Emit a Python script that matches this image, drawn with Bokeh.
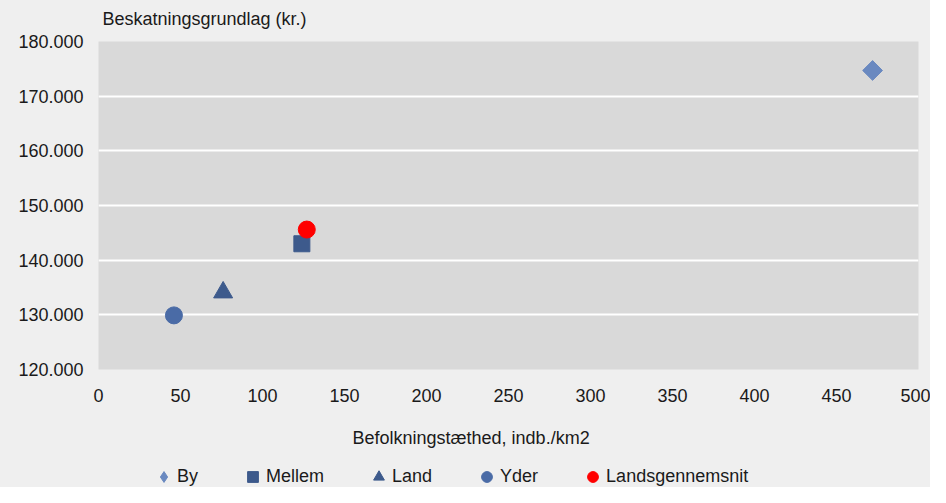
import math
from bokeh.plotting import figure
from bokeh.layouts import column
from bokeh.models import Range1d, FixedTicker, Legend, LegendItem, Label
from bokeh.embed import file_html
from bokeh.resources import INLINE

# Data
series = ["By", "Mellem", "Land", "Yder", "Landsgennemsnit"]
density = [472, 124, 76, 46, 127]
tax_base = [174700, 143000, 134100, 129900, 145600]
markers = ["square", "square", "triangle", "circle", "circle"]
legend_markers = ["diamond", "square", "triangle", "circle", "circle"]
angles = [math.pi / 4, 0, 0, 0, 0]
colors = ["#6a89c0", "#3d5a8c", "#3d5a8c", "#4a6ba6", "#ff0000"]
sizes = [14, 16, 19, 17, 17]

x_ticks = list(range(0, 501, 50))
y_ticks = list(range(120000, 180001, 10000))
y_tick_labels = {t: f"{t:,}".replace(",", ".") for t in y_ticks}

y_title = "Beskatningsgrundlag (kr.)"
x_title = "Befolkningstæthed, indb./km2"

FONT = "Liberation Sans"
TXT = "#1a1a1a"
BG = "#efefef"

W = 930
BL, BR = 98, 12
H_TOP, H_MAIN, H_BOT = 30, 379, 78


def strip(height):
    s = figure(width=W, height=height, output_backend="svg", toolbar_location=None,
               x_axis_type=None, y_axis_type=None,
               min_border_left=BL, min_border_right=BR, min_border_top=0, min_border_bottom=0,
               x_range=Range1d(0, 1), y_range=Range1d(0, 1))
    s.background_fill_color = None
    s.border_fill_color = BG
    s.outline_line_color = None
    s.xgrid.grid_line_color = None
    s.ygrid.grid_line_color = None
    return s


# Top strip: y-axis title
top = strip(H_TOP)
top.add_layout(Label(x=4, y=11.5, x_units="screen", y_units="screen", text=y_title,
                     text_font=FONT, text_font_size="18px", text_color=TXT,
                     text_baseline="middle"))

# Main plot
p = figure(width=W, height=H_MAIN, output_backend="svg", toolbar_location=None,
           x_range=Range1d(0, 500), y_range=Range1d(120000, 180000),
           min_border_left=BL, min_border_right=BR, min_border_top=11, min_border_bottom=40)
p.background_fill_color = "#d9d9d9"
p.border_fill_color = BG
p.outline_line_color = None

p.xgrid.grid_line_color = None
p.ygrid.grid_line_color = "white"
p.ygrid.grid_line_width = 2

p.xaxis.ticker = FixedTicker(ticks=x_ticks)
p.yaxis.ticker = FixedTicker(ticks=y_ticks)
p.yaxis.major_label_overrides = y_tick_labels
for ax in (p.xaxis, p.yaxis):
    ax.axis_line_color = None
    ax.major_tick_line_color = None
    ax.minor_tick_line_color = None
    ax.major_tick_out = 0
    ax.major_tick_in = 0
    ax.minor_tick_out = 0
    ax.major_label_text_font = FONT
    ax.major_label_text_font_size = "18px"
    ax.major_label_text_color = TXT
p.xaxis.major_label_standoff = 19
p.yaxis.major_label_standoff = 15

for i, name in enumerate(series):
    p.scatter([density[i]], [tax_base[i]], marker=markers[i], size=sizes[i], angle=angles[i],
              fill_color=colors[i], line_color=colors[i])

# Bottom strip: x-axis title and legend
bot = strip(H_BOT)
bot.add_layout(Label(x=254, y=49.5, x_units="screen", y_units="screen", text=x_title,
                     text_font=FONT, text_font_size="18px", text_color=TXT,
                     text_baseline="middle"))

items = []
for i, name in enumerate(series):
    lr = bot.scatter([density[i]], [tax_base[i]], marker=legend_markers[i], size=11,
                     fill_color=colors[i], line_color=colors[i])
    items.append(LegendItem(label=name, renderers=[lr]))
legend = Legend(items=items, orientation="horizontal", location=(52, -3),
                background_fill_alpha=0, border_line_color=None,
                glyph_width=27, glyph_height=27, label_standoff=0, padding=0, margin=0,
                spacing=41, label_text_font=FONT, label_text_font_size="18px",
                label_text_color=TXT)
bot.add_layout(legend, "center")

layout = column(top, p, bot, spacing=0, styles={"background-color": BG})
open("out.html", "w").write(file_html(layout, INLINE))
